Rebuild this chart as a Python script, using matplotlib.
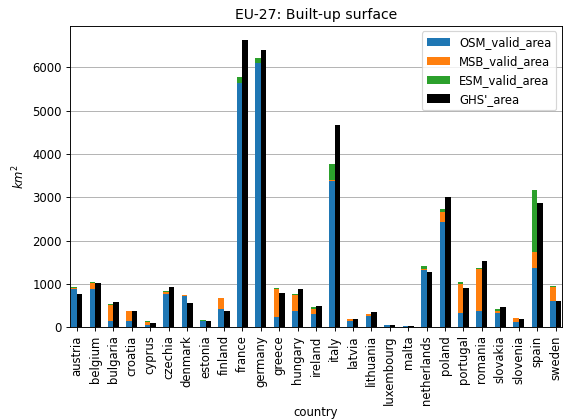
import matplotlib

matplotlib.use("Agg")
import matplotlib.pyplot as plt
import numpy as np

countries = [
    "austria", "belgium", "bulgaria", "croatia", "cyprus", "czechia",
    "denmark", "estonia", "finland", "france", "germany", "greece",
    "hungary", "ireland", "italy", "latvia", "lithuania", "luxembourg",
    "malta", "netherlands", "poland", "portugal", "romania", "slovakia",
    "slovenia", "spain", "sweden",
]

# built-up area per source, km^2
osm_valid_area = [
    877, 892, 154, 154, 54, 777, 715, 138, 431, 5631, 6092, 231,
    385, 315, 3376, 138, 262, 46, 31, 1323, 2438, 331, 362, 338,
    131, 1362, 615,
]
msb_valid_area = [
    23, 131, 361, 208, 77, 31, 23, 8, 238, 10, 10, 646,
    361, 108, 20, 47, 46, 2, 1, 31, 224, 677, 976, 47,
    77, 384, 308,
]
esm_valid_area = [
    23, 31, 31, 23, 7, 22, 8, 16, 1, 142, 120, 23,
    31, 39, 373, 7, 7, 5, 1, 61, 76, 46, 24, 30,
    15, 1423, 31,
]
ghs_area = [
    777, 1023, 592, 362, 108, 923, 569, 138, 369, 6630, 6400, 800,
    877, 492, 4662, 185, 346, 46, 31, 1285, 3015, 908, 1523, 469,
    185, 2869, 615,
]

x = np.arange(len(countries))
w = 0.3
DPI = 84

fig = plt.figure(figsize=(566 / DPI, 420 / DPI), dpi=DPI)
ax = fig.add_axes([0.124, 0.221, 0.869, 0.718])

osm = np.array(osm_valid_area)
msb = np.array(msb_valid_area)
esm = np.array(esm_valid_area)

# stacked sources left of the tick, GHS reference right of it
ax.bar(x - w, osm, width=w, align="edge", color="tab:blue",
       label="OSM_valid_area")
ax.bar(x - w, msb, width=w, align="edge", bottom=osm, color="tab:orange",
       label="MSB_valid_area")
ax.bar(x - w, esm, width=w, align="edge", bottom=osm + msb, color="tab:green",
       label="ESM_valid_area")
ax.bar(x, ghs_area, width=w, align="edge", color="black", label="GHS'_area")

ax.set_xlim(-0.35, len(x) - 1 + 0.35)
ax.set_xticks(x)
ax.set_xticklabels(countries, rotation=90)
ax.set_xlabel("country", labelpad=1)
ax.set_ylabel("$km^2$")
ax.set_title("EU-27: Built-up surface")
ax.yaxis.grid(True, color="#b0b0b0")
ax.set_axisbelow(True)
ax.legend(loc="upper right")

fig.savefig("out.png", dpi=DPI)
